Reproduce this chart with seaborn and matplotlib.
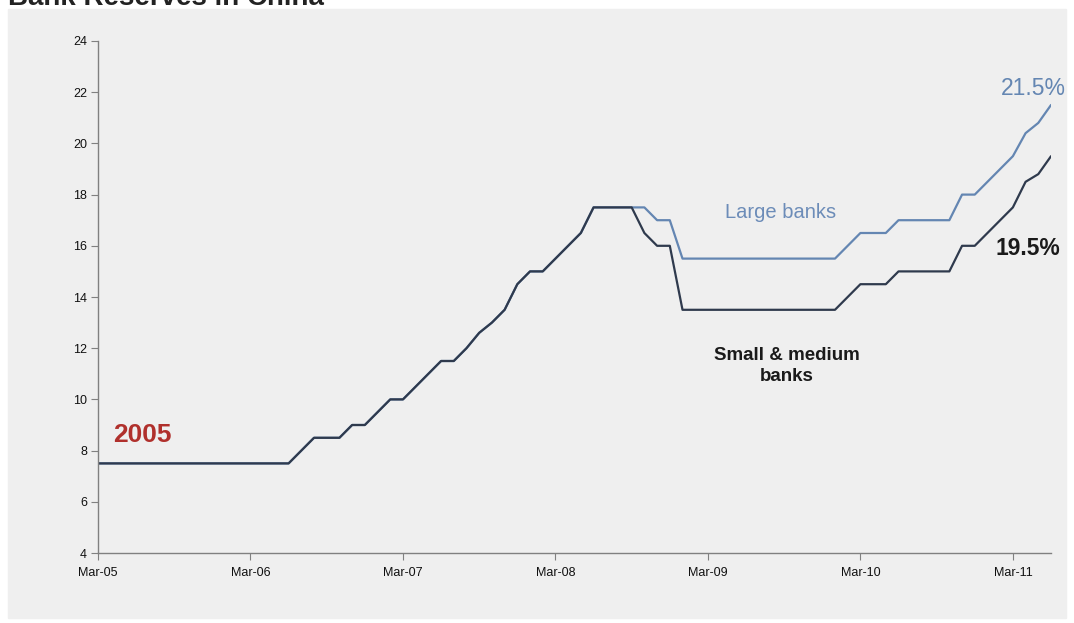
import numpy as np
import pandas as pd
import seaborn as sns
from matplotlib import pyplot as plt
from matplotlib.patches import Rectangle

# monthly reserve requirement ratio (%), Mar-05 .. Jun-11
large_banks = [
    7.5, 7.5, 7.5, 7.5, 7.5, 7.5, 7.5, 7.5, 7.5, 7.5, 7.5, 7.5,      # Mar05-Feb06
    7.5, 7.5, 7.5, 7.5, 8.0, 8.5, 8.5, 8.5, 9.0, 9.0, 9.5, 10.0,     # Mar06-Feb07
    10.0, 10.5, 11.0, 11.5, 11.5, 12.0, 12.6, 13.0, 13.5, 14.5, 15.0, 15.0,  # Mar07-Feb08
    15.5, 16.0, 16.5, 17.5, 17.5, 17.5, 17.5, 17.5, 17.0, 17.0, 15.5, 15.5,  # Mar08-Feb09
    15.5, 15.5, 15.5, 15.5, 15.5, 15.5, 15.5, 15.5, 15.5, 15.5, 15.5, 16.0,  # Mar09-Feb10
    16.5, 16.5, 16.5, 17.0, 17.0, 17.0, 17.0, 17.0, 18.0, 18.0, 18.5, 19.0,  # Mar10-Feb11
    19.5, 20.4, 20.8, 21.5,                                                  # Mar11-Jun11
]
small_banks = [
    7.5, 7.5, 7.5, 7.5, 7.5, 7.5, 7.5, 7.5, 7.5, 7.5, 7.5, 7.5,
    7.5, 7.5, 7.5, 7.5, 8.0, 8.5, 8.5, 8.5, 9.0, 9.0, 9.5, 10.0,
    10.0, 10.5, 11.0, 11.5, 11.5, 12.0, 12.6, 13.0, 13.5, 14.5, 15.0, 15.0,
    15.5, 16.0, 16.5, 17.5, 17.5, 17.5, 17.5, 16.5, 16.0, 16.0, 13.5, 13.5,
    13.5, 13.5, 13.5, 13.5, 13.5, 13.5, 13.5, 13.5, 13.5, 13.5, 13.5, 14.0,
    14.5, 14.5, 14.5, 15.0, 15.0, 15.0, 15.0, 15.0, 16.0, 16.0, 16.5, 17.0,
    17.5, 18.5, 18.8, 19.5,
]
tick_labels = ["Mar-05", "Mar-06", "Mar-07", "Mar-08", "Mar-09", "Mar-10", "Mar-11"]
month = np.arange(len(large_banks))

df = pd.DataFrame({
    "month": np.concatenate([month, month]),
    "ratio": large_banks + small_banks,
    "group": ["Large banks"] * len(month) + ["Small & medium banks"] * len(month),
})

sns.set_theme(style="white")
plt.rcParams["font.family"] = ["Liberation Sans", "DejaVu Sans"]

fig = plt.figure(figsize=(10.74, 6.23), dpi=100)
fig.patch.set_facecolor("white")
fig.patches.append(Rectangle((8 / 1074, 1 - 618 / 623), 1058 / 1074, 609 / 623,
                             transform=fig.transFigure, color="#efefef", zorder=-5))
# title is cropped at the top edge in the source image
fig.text(8 / 1074, 1 - 5 / 623, "Bank Reserves in China", fontsize=20,
         fontweight="bold", color="#222222", va="baseline", ha="left")

ax = fig.add_axes([98 / 1074, 70 / 623, 953 / 1074, 512 / 623])
ax.set_facecolor("none")
ax.set_zorder(2)

sns.lineplot(data=df, x="month", y="ratio", hue="group",
             palette={"Large banks": "#6486b2", "Small & medium banks": "#2f3a4d"},
             linewidth=1.6, legend=False, ax=ax)

ax.set_xlim(0, month[-1])
ax.set_ylim(4, 24)
ax.set_xticks(np.arange(0, 73, 12))
ax.set_xticklabels(tick_labels)
ax.set_yticks(np.arange(4, 25, 2))
ax.set_xlabel("")
ax.set_ylabel("")

for s in ["top", "right"]:
    ax.spines[s].set_visible(False)
for s in ["left", "bottom"]:
    ax.spines[s].set_color("#808080")
    ax.spines[s].set_linewidth(1.0)

ax.tick_params(axis="both", which="major", length=5, width=0.8, color="#808080",
               labelsize=9, labelcolor="#111111", direction="out", left=True, bottom=True)
ax.tick_params(axis="x", pad=5)
ax.tick_params(axis="y", pad=3)

ax.text(1.2, 8.6, "2005", color="#b0302c", fontsize=19, fontweight="bold",
        ha="left", va="center")
ax.text(53.75, 17.3, "Large banks", color="#6c8cb8", fontsize=14.5, ha="center", va="center")
ax.text(54.2, 11.3, "Small & medium\nbanks", color="#1a1a1a", fontsize=13.5,
        fontweight="bold", ha="center", va="center", linespacing=1.25)
ax.text(73.2, 15.9, "19.5%", color="#1a1a1a", fontsize=16.5, fontweight="bold",
        ha="center", va="center")
ax.text(73.6, 22.15, "21.5%", color="#6486b2", fontsize=16.5, ha="center", va="center")

fig.savefig("out.png", dpi=100, facecolor=fig.get_facecolor())
